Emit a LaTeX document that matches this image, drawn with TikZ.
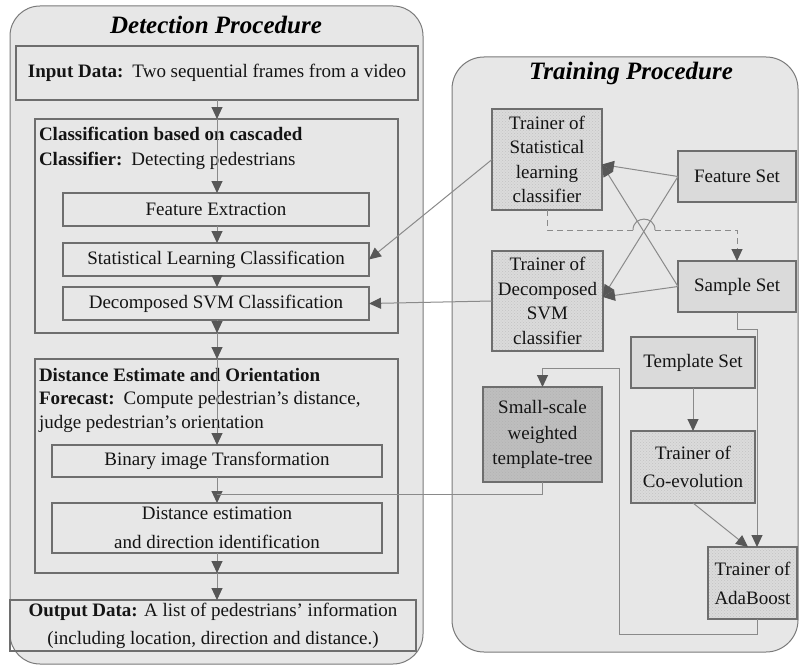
\documentclass[tikz,border=0pt]{standalone}
\usepackage{fontspec}
\setmainfont{Liberation Serif}
\usetikzlibrary{arrows.meta,patterns,calc}

\definecolor{panelfill}{HTML}{E7E7E7}
\definecolor{panelline}{HTML}{7A7A7A}
\definecolor{boxline}{HTML}{6E6E6E}
\definecolor{setfill}{HTML}{DADADA}
\definecolor{trainfill}{HTML}{DBDBDB}
\definecolor{hatch}{HTML}{C2C2C2}
\definecolor{treefill}{HTML}{BEBEBE}
\definecolor{wire}{HTML}{8A8A8A}
\definecolor{tipgray}{HTML}{575757}

\begin{document}
\begin{tikzpicture}[x=1pt,y=-1pt,
  every node/.style={inner sep=0pt, outer sep=0pt},
  boxsize/.style 2 args={minimum width=#1pt, minimum height=#2pt},
  txt/.style={font=\fontsize{19}{24}\selectfont, text=black!92},
  heading/.style={font=\fontsize{25}{30}\selectfont\bfseries\itshape},
  panel/.style={draw=panelline, line width=1pt, fill=panelfill, rounded corners=30pt},
  group/.style={draw=boxline, line width=1.1pt},
  stage/.style={draw=boxline, line width=1.1pt, txt, align=center},
  setbox/.style={stage, fill=setfill},
  trainer/.style={stage, preaction={fill=trainfill}, pattern=crosshatch dots, pattern color=hatch},
  tree/.style={stage, preaction={fill=treefill}, pattern=crosshatch dots, pattern color=black!30},
  link/.style={draw=wire, line width=1pt},
  arr/.style={link, -{Triangle[length=12pt,width=11pt,color=tipgray]}},
  dlink/.style={link, dash pattern=on 6pt off 4pt},
]
\useasboundingbox (0,0) rectangle (799,666);

% the two procedure panels
\node[panel, boxsize={413}{658}] (detect) at (216.5,335) {};
\node[panel, rounded corners=32pt, boxsize={346}{595}] (train) at (625,354.5) {};
\node[heading] (detectT) at (216,25) {Detection Procedure};
\node[heading] (trainT) at (631,73) {Training Procedure};

% detection procedure
\node[stage, boxsize={402}{54}] (input) at (217,73)
  {\textbf{Input Data:}\hspace{9pt}Two sequential frames from a video};

\node[group, boxsize={363}{214}] (class) at (216.5,226) {};
\node[txt, anchor=west, align=left, font=\fontsize{19}{25}\selectfont] (classT) at (39,148)
  {\textbf{Classification based on cascaded}\\\textbf{Classifier:}\hspace{9pt}Detecting pedestrians};
\node[stage, boxsize={306}{33}] (feat) at (216,209.5) {Feature Extraction};
\node[stage, boxsize={306}{33}] (stat) at (216,259.5) {Statistical Learning Classification};
\node[stage, boxsize={306}{33}] (decomp) at (216,303.5) {Decomposed SVM Classification};

\node[group, boxsize={363}{214}] (dist) at (216.5,466) {};
\node[txt, anchor=west, align=left, font=\fontsize{19}{23.5}\selectfont] (distT) at (39,400)
  {\textbf{Distance Estimate and Orientation}\\\textbf{Forecast:}\hspace{9pt}Compute pedestrian's distance,\\judge pedestrian's orientation};
\node[stage, boxsize={330}{32}] (binary) at (217,461) {Binary image Transformation};
\node[stage, boxsize={330}{50}, font=\fontsize{19}{29}\selectfont] (distest) at (217,528)
  {Distance estimation\\and direction identification};

\node[stage, boxsize={406}{51}, font=\fontsize{19}{28}\selectfont] (output) at (213,625.5)
  {\textbf{Output Data:} A list of pedestrians' information\\(including location, direction and distance.)};

% main flow of the detection procedure
\draw[arr] (input.south) -- (input.south |- class.north);
\draw[arr] (input.south |- class.north) -- (input.south |- feat.north);
\draw[arr] (input.south |- feat.south) -- (input.south |- stat.north);
\draw[arr] (input.south |- stat.south) -- (input.south |- decomp.north);
\draw[arr] (input.south |- decomp.south) -- (input.south |- class.south);
\draw[arr] (input.south |- class.south) -- (input.south |- dist.north);
\draw[arr] (input.south |- dist.north) -- (binary.north);
\draw[arr] (binary.south) -- (distest.north);
\draw[arr] (distest.south) -- (distest.south |- dist.south);
\draw[arr] (distest.south |- dist.south) -- (distest.south |- output.north);

% training procedure
\node[trainer, boxsize={110}{101}, font=\fontsize{19}{24.5}\selectfont] (TS) at (547,159.5)
  {Trainer of\\Statistical\\learning\\classifier};
\node[setbox, boxsize={118}{51}] (FS) at (737,176.5) {Feature Set};
\node[setbox, boxsize={118}{51}] (SS) at (737,286.5) {Sample Set};
\node[trainer, boxsize={111}{100}, font=\fontsize{19}{24.5}\selectfont] (TD) at (547.5,301)
  {Trainer of\\Decomposed\\SVM\\classifier};
\node[setbox, boxsize={124}{51}] (TT) at (693,362.5) {Template Set};
\node[trainer, boxsize={124}{72}, font=\fontsize{19}{28}\selectfont] (CE) at (693,467)
  {Trainer of\\Co-evolution};
\node[tree, boxsize={119}{95}, font=\fontsize{19}{25.5}\selectfont] (SW) at (542.5,434.5)
  {Small-scale\\weighted\\template-tree};
\node[trainer, boxsize={89}{72}, font=\fontsize{19}{29}\selectfont] (AB) at (752.5,583)
  {Trainer of\\AdaBoost};

% trained classifiers feed the detection stages
\draw[arr] (TS.west) -- (stat.east);
\draw[arr] (TD.west) -- (decomp.east);

% feature and sample sets feed both trainers
\coordinate (TSin) at ($(TS.east)+(0,5)$);
\coordinate (TDin) at ($(TD.east)+(0,-4)$);
\draw[arr] (FS.west) -- (TSin);
\draw[arr] (FS.west) -- (TDin);
\draw[arr] (SS.west) -- (TSin);
\draw[arr] (SS.west) -- (TDin);

% dashed feedback with a hop over the crossing
\coordinate (hopL) at (633,230);
\coordinate (hopR) at (655,230);
\draw[dlink] (TS.south) |- (hopL);
\draw[link] (hopL) .. controls (633,215.5) and (655,215.5) .. (hopR);
\draw[dlink, -{Triangle[length=12pt,width=11pt,color=tipgray]}] (hopR) -| (SS.north);

% template and sample sets into boosting
\draw[arr] (TT.south) -- (CE.north);
\coordinate (sbend) at (757,329);
\draw[arr] (SS.south) |- (sbend) -- (sbend |- AB.north);
\draw[arr] (CE.south) -- ($(AB.north)+(-4.5,0)$);

% boosting builds the template tree
\coordinate (fbL) at (619,634);
\coordinate (fbT) at (619,368);
\draw[arr] (sbend |- AB.south) |- (fbL) -- (fbT) -| (SW.north);

% template tree joins the distance stage
\coordinate (join) at (217,494);
\draw[link] (SW.south) |- (join);
\end{tikzpicture}
\end{document}
